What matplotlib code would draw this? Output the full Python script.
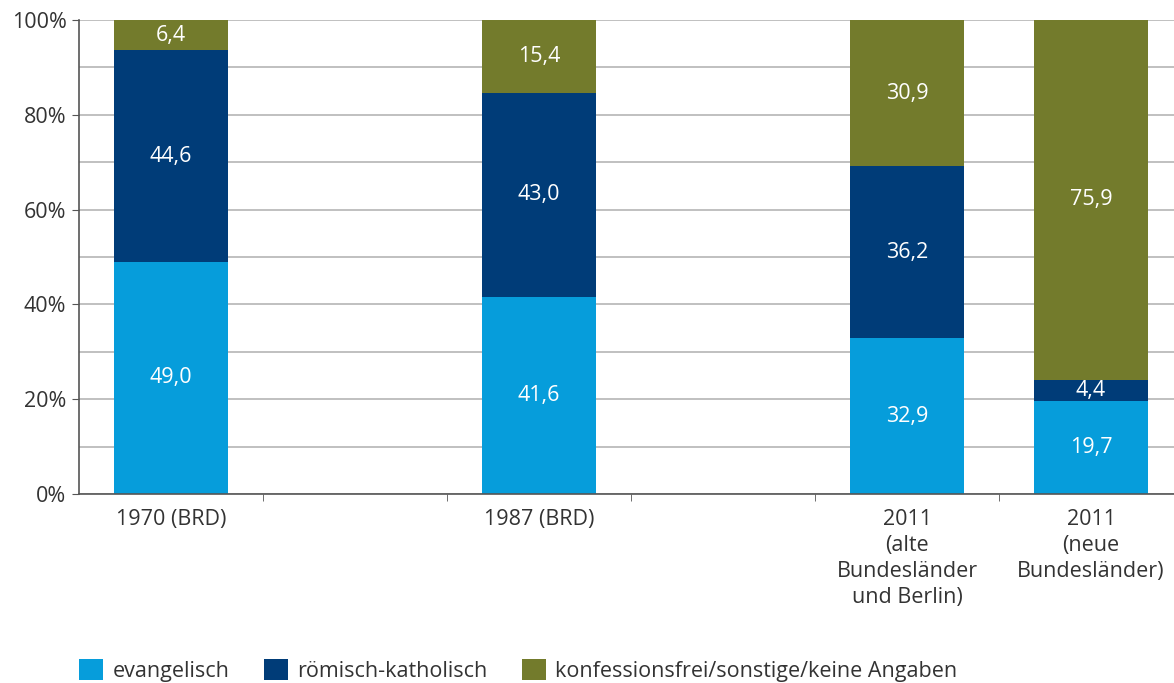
import numpy as np
import matplotlib
matplotlib.use("Agg")
import matplotlib.pyplot as plt
from matplotlib.patches import Patch
from matplotlib.ticker import MultipleLocator, FuncFormatter

plt.rcParams["font.family"] = ["Open Sans", "DejaVu Sans"]

categories = [
    "1970 (BRD)",
    "1987 (BRD)",
    "2011\n(alte\nBundesländer\nund Berlin)",
    "2011\n(neue\nBundesländer)",
]
evangelisch = [49.0, 41.6, 32.9, 19.7]
katholisch = [44.6, 43.0, 36.2, 4.4]
konfessionsfrei = [6.4, 15.4, 30.9, 75.9]
series_names = ["evangelisch", "römisch-katholisch",
                "konfessionsfrei/sonstige/keine Angaben"]

# layout: 6 slots, two of them left empty
slots = [0, 2, 4, 5]
n_slots = 6
colors = ["#069ddb", "#003c78", "#737b2c"]
text_col = "#333333"
fs = 15.5

fig = plt.figure(figsize=(11.74, 6.83), dpi=100)
ax = fig.add_axes([79 / 1174, 189 / 683, 1104 / 1174, 474 / 683])

bottom = np.zeros(len(categories))
for vals, col in zip([evangelisch, katholisch, konfessionsfrei], colors):
    vals = np.array(vals)
    ax.bar(slots, vals, bottom=bottom, width=0.62, color=col, zorder=3)
    for x, b, v in zip(slots, bottom, vals):
        ax.text(x, b + v / 2, f"{v:.1f}".replace(".", ","), ha="center",
                va="center", color="white", fontsize=fs, zorder=4)
    bottom += vals

ax.set_xlim(-0.5, n_slots - 0.5)
ax.set_ylim(0, 100)

ax.yaxis.set_major_locator(MultipleLocator(20))
ax.yaxis.set_minor_locator(MultipleLocator(10))
ax.yaxis.set_major_formatter(FuncFormatter(lambda v, p: f"{int(v)}%"))
ax.grid(axis="y", which="both", color="#b5b5b5", linewidth=1.2, zorder=0)
ax.tick_params(axis="y", which="major", length=5, color="#555555",
               labelsize=fs, labelcolor=text_col, pad=4)
ax.tick_params(axis="y", which="minor", length=0)

ax.set_xticks(slots)
ax.set_xticklabels(categories, linespacing=1.3)
ax.set_xticks(np.arange(0.5, n_slots - 0.5, 1), minor=True)
ax.tick_params(axis="x", which="major", length=0, labelsize=fs,
               labelcolor=text_col, pad=11)
ax.tick_params(axis="x", which="minor", length=5, color="#555555")
for lab in ax.get_xticklabels():
    lab.set_verticalalignment("top")

for s in ["top", "right"]:
    ax.spines[s].set_visible(False)
for s in ["left", "bottom"]:
    ax.spines[s].set_color("#555555")
    ax.spines[s].set_linewidth(1.2)
    ax.spines[s].set_zorder(5)

handles = [Patch(facecolor=c, edgecolor="none") for c in colors]
fig.legend(handles, series_names, loc="lower left",
           bbox_to_anchor=(60 / 1174, -0.027), ncol=3, frameon=False,
           fontsize=fs, handlelength=1.1, handleheight=1.1,
           handletextpad=0.45, columnspacing=1.6, labelcolor=text_col)

fig.savefig("out.png", dpi=100)
